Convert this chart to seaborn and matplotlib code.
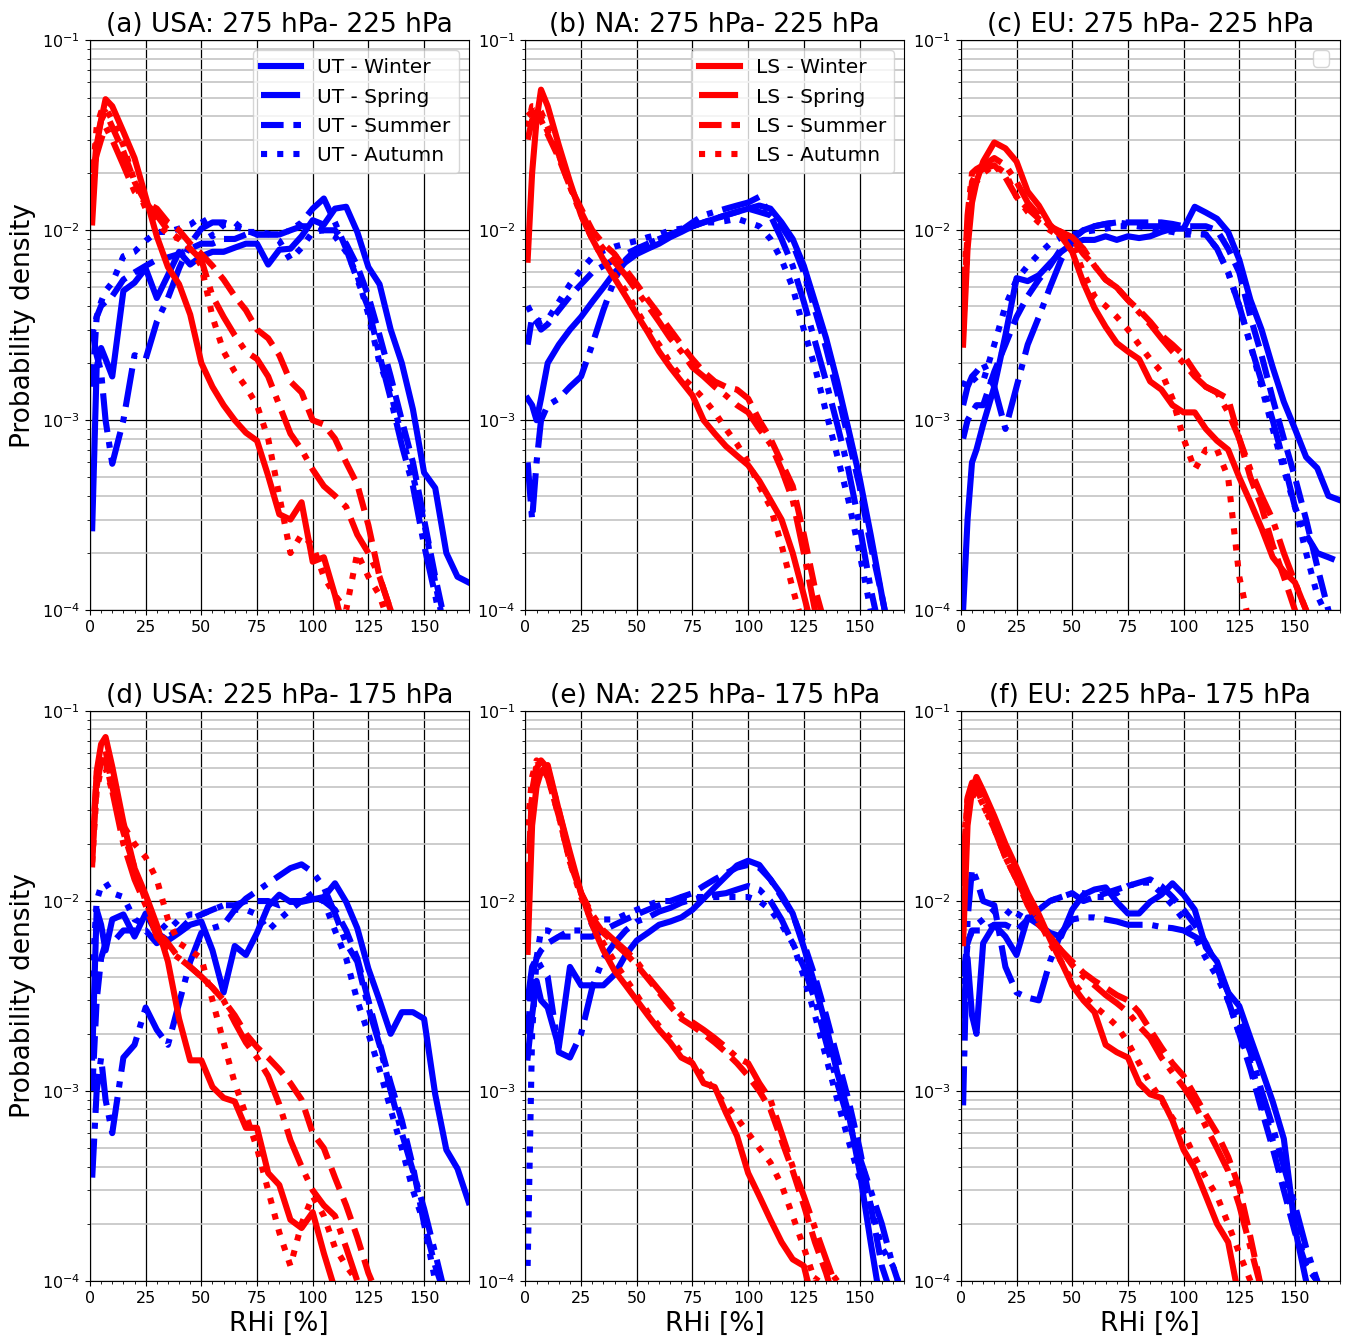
import numpy as np
import matplotlib
matplotlib.use("Agg")
import matplotlib.pyplot as plt
import seaborn as sns
from matplotlib.legend import Legend
from matplotlib.ticker import MultipleLocator, LogLocator, NullFormatter

nan = np.nan

# RHi [%] sampling points shared by all curves
rhi = [1, 3, 5, 7, 10,
       15, 20, 25, 30, 35, 40, 45, 50,
       55, 60, 65, 70, 75, 80, 85, 90, 95, 100,
       105, 110, 115, 120, 125, 130, 135, 140, 145, 150,
       155, 160, 165, 170]

seasons = ["Winter", "Spring", "Summer", "Autumn"]

# probability density, in units of 1e-3
# (a) USA 275-225 hPa
a_ut_winter = [0.27, 1.9, 2.4, 2.1, 1.7,
               4.8, 5.3, 6.3, 4.4, 5.8, 7.7, 6.6, 7.3,
               7.7, 7.7, 8.1, 8.5, 8.5, 6.6, 7.9, 8.0, 9.3, 11.3,
               10.7, 13.0, 13.3, 9.8, 6.4, 5.2, 3.0, 2.0, 1.14, 0.53,
               0.44, 0.2, 0.15, 0.14]
a_ut_spring = [3.0, 2.2, 1.8, 1.0, 0.59,
               1.0, 2.2, 2.1, 3.3, 4.4, 6.3, 8.5, 10.2,
               11.0, 11.0, 10.5, 10.0, 9.5, 9.5, 9.5, 10.0, 11.0, 13.0,
               14.7, 11.0, 8.0, 5.5, 3.9, 2.2, 1.3, 0.74, 0.45, 0.22,
               0.12, 0.06, nan, nan]
a_ut_summer = [1.5, 3.5, 4.0, 4.2, 4.5,
               5.5, 6.0, 6.5, 7.0, 7.2, 7.5, 8.0, 8.5,
               8.5, 9.0, 9.0, 9.5, 9.5, 9.5, 9.5, 10.0, 10.5, 10.5,
               10.0, 10.0, 8.5, 6.5, 4.5, 2.8, 1.7, 1.0, 0.6, 0.3,
               0.15, 0.08, nan, nan]
a_ut_autumn = [2.8, 3.5, 4.2, 4.8, 5.3,
               7.3, 7.7, 8.8, 9.8, 9.8, 10.2, 10.7, 11.8,
               9.3, 10.7, 11.0, 9.8, 9.8, 9.6, 8.8, 7.0, 8.1, 9.8,
               10.0, 9.3, 7.7, 5.8, 3.6, 2.0, 1.4, 0.82, 0.51, 0.29,
               0.14, 0.07, nan, nan]
a_ls_winter = [11, 28, 38, 49, 45,
               33, 24, 15, 9.3, 6.4, 5.2, 3.6, 2.0,
               1.5, 1.2, 1.0, 0.86, 0.78, 0.51, 0.32, 0.3, 0.37, 0.18,
               0.19, 0.12, 0.07, nan, nan, nan, nan, nan, nan, nan,
               nan, nan, nan, nan]
a_ls_spring = [20, 25, 30, 35, 30,
               22, 16, 14, 12, 10, 9, 8, 7,
               4.5, 3.5, 2.8, 2.3, 2.1, 1.7, 1.2, 0.85, 0.7, 0.55,
               0.45, 0.4, 0.35, 0.25, 0.2, 0.15, 0.1, 0.07, nan, nan,
               nan, nan, nan, nan]
a_ls_summer = [15, 30, 38, 42, 35,
               26, 18, 14, 13, 11, 10, 8.5, 7.5,
               6.5, 5.5, 4.5, 3.8, 3.0, 2.7, 2.2, 1.6, 1.4, 1.0,
               0.95, 0.8, 0.6, 0.46, 0.28, 0.15, 0.1, 0.07, nan, nan,
               nan, nan, nan, nan]
a_ls_autumn = [18, 35, 42, 44, 38,
               28, 18, 13, 11, 9.5, 9.0, 8.0, 6.5,
               3.5, 2.3, 1.8, 1.5, 1.2, 0.8, 0.4, 0.2, 0.25, 0.22,
               0.15, 0.12, 0.1, 0.2, 0.15, 0.12, 0.08, nan, nan, nan,
               nan, nan, nan, nan]

# (b) NA 275-225 hPa
b_ut_winter = [1.3, 1.2, 1.0, 1.3, 2.0,
               2.5, 3.0, 3.5, 4.2, 5.0, 6.0, 6.8, 7.5,
               8.0, 8.5, 9.2, 9.8, 10.5, 11.0, 11.5, 12.0, 12.5, 13.0,
               13.5, 13.0, 11.0, 9.0, 6.5, 4.2, 2.7, 1.6, 0.9, 0.5,
               0.25, 0.12, 0.06, nan]
b_ut_spring = [0.6, 0.3, 0.6, 1.0, 1.2,
               1.3, 1.5, 1.7, 2.5, 3.8, 5.5, 7.0, 8.0,
               8.5, 9.0, 9.5, 10.0, 11.0, 12.0, 12.5, 13.0, 13.5, 14.0,
               15.0, 12.0, 9.0, 6.5, 4.2, 2.6, 1.6, 0.95, 0.55, 0.28,
               0.13, 0.07, nan, nan]
b_ut_summer = [2.5, 3.5, 3.3, 3.0, 3.2,
               3.8, 4.5, 5.2, 6.0, 6.5, 7.0, 7.5, 8.0,
               8.5, 9.0, 9.5, 10.0, 10.5, 11.0, 11.5, 12.0, 12.5, 13.0,
               12.5, 12.0, 10.5, 8.5, 6.0, 3.8, 2.4, 1.4, 0.8, 0.45,
               0.22, 0.12, 0.06, nan]
b_ut_autumn = [4.0, 3.6, 3.4, 3.3, 3.4,
               4.2, 5.2, 6.2, 7.2, 7.8, 8.2, 8.5, 8.8,
               9.2, 9.5, 10.0, 10.2, 10.5, 11.0, 11.0, 11.2, 11.5, 11.0,
               10.5, 9.0, 7.0, 5.0, 3.0, 1.9, 1.1, 0.65, 0.38, 0.2,
               0.1, 0.06, nan, nan]
b_ls_winter = [7, 20, 38, 55, 45,
               28, 18, 12, 9, 7, 5.6, 4.5, 3.6,
               2.9, 2.3, 1.9, 1.6, 1.35, 1.0, 0.85, 0.73, 0.65, 0.58,
               0.48, 0.38, 0.3, 0.2, 0.12, 0.07, nan, nan, nan, nan,
               nan, nan, nan, nan]
b_ls_spring = [30, 38, 42, 40, 33,
               25, 17, 12.5, 9.5, 8.0, 6.8, 5.8, 4.8,
               4.0, 3.3, 2.7, 2.3, 1.9, 1.7, 1.5, 1.35, 1.2, 1.1,
               0.9, 0.75, 0.55, 0.38, 0.2, 0.1, 0.06, nan, nan, nan,
               nan, nan, nan, nan]
b_ls_summer = [40, 42, 40, 38, 32,
               24, 17, 13, 10, 8.5, 7.5, 6.2, 5.2,
               4.3, 3.6, 3.0, 2.5, 2.1, 1.8, 1.6, 1.5, 1.45, 1.3,
               1.0, 0.8, 0.6, 0.45, 0.25, 0.13, 0.08, nan, nan, nan,
               nan, nan, nan, nan]
b_ls_autumn = [35, 45, 45, 42, 35,
               25, 17, 12, 9, 7, 5.8, 4.8, 3.8,
               3.0, 2.5, 2.0, 1.7, 1.5, 1.3, 1.1, 0.9, 0.75, 0.6,
               0.45, 0.35, 0.22, 0.13, 0.08, nan, nan, nan, nan, nan,
               nan, nan, nan, nan]

# (c) EU 275-225 hPa
c_ut_winter = [0.1, 0.3, 0.6, 0.7, 0.95,
               1.5, 2.8, 5.6, 5.4, 5.8, 6.7, 7.7, 8.5,
               8.9, 8.9, 9.3, 8.9, 9.3, 9.1, 9.3, 9.8, 10.2, 10.2,
               13.3, 12.4, 11.5, 9.8, 7.0, 4.3, 3.0, 1.9, 1.25, 0.9,
               0.64, 0.56, 0.4, 0.38]
c_ut_spring = [1.2, 1.5, 1.7, 1.8, 2.0,
               1.5, 0.9, 1.5, 2.5, 3.5, 5.0, 7.0, 9.0,
               10.0, 10.5, 10.8, 11.0, 10.8, 10.5, 10.5, 10.5, 10.2, 10.0,
               9.8, 9.5, 8.0, 6.0, 4.0, 2.5, 1.6, 1.0, 0.6, 0.35,
               0.25, 0.2, 0.19, 0.18]
c_ut_summer = [0.8, 1.0, 1.1, 1.2, 1.2,
               1.8, 2.5, 3.5, 4.5, 5.5, 6.5, 8.0, 9.0,
               10.0, 10.5, 10.8, 11.0, 11.0, 11.0, 11.0, 11.0, 10.8, 10.5,
               10.5, 10.5, 10.0, 8.0, 6.0, 3.5, 2.2, 1.3, 0.8, 0.5,
               0.3, 0.17, 0.1, 0.07]
c_ut_autumn = [1.5, 1.7, 1.7, 1.6, 1.6,
               2.5, 4.0, 5.5, 6.5, 7.5, 8.5, 9.2, 9.5,
               9.8, 10.0, 10.2, 10.5, 10.5, 10.5, 10.2, 10.0, 9.8, 9.5,
               9.5, 9.5, 8.0, 6.0, 4.0, 2.5, 1.5, 0.9, 0.55, 0.35,
               0.2, 0.12, 0.09, nan]
c_ls_winter = [2.5, 8, 14, 18, 23,
               29, 27, 23, 16, 13.5, 10.7, 9.3, 7.7,
               5.3, 3.9, 3.1, 2.55, 2.3, 2.1, 1.6, 1.45, 1.2, 1.1,
               1.1, 0.9, 0.78, 0.7, 0.5, 0.37, 0.27, 0.19, 0.16, 0.14,
               0.1, 0.07, nan, nan]
c_ls_spring = [4, 12, 20, 21, 22,
               24, 22, 18, 14, 12, 10.5, 9.8, 9.2,
               8.0, 6.5, 5.5, 5.0, 4.3, 3.7, 3.2, 2.7, 2.3, 2.0,
               1.7, 1.5, 1.4, 1.1, 0.8, 0.55, 0.4, 0.3, 0.2, 0.14,
               0.1, 0.07, nan, nan]
c_ls_summer = [3, 10, 18, 20, 21,
               22, 19, 15, 13, 11.5, 10.5, 9.8, 9.0,
               7.5, 6.5, 5.5, 5.0, 4.3, 3.8, 3.3, 2.8, 2.5, 2.2,
               1.8, 1.5, 1.4, 1.3, 0.8, 0.5, 0.35, 0.22, 0.15, 0.1,
               0.07, nan, nan, nan]
c_ls_autumn = [3, 9, 16, 18, 20,
               22, 20, 15, 12.5, 11, 10, 9.2, 8.5,
               6.0, 4.5, 4.0, 3.5, 3.0, 2.5, 2.1, 1.8, 1.3, 0.8,
               0.55, 0.7, 0.7, 0.5, 0.15, 0.08, nan, nan, nan, nan,
               nan, nan, nan, nan]

# (d) USA 225-175 hPa
d_ut_winter = [1.5, 9.0, 7.5, 5.5, 8.0,
               8.5, 6.5, 8.6, 6.8, 6.2, 6.8, 7.5, 7.8,
               5.5, 3.3, 5.8, 5.2, 6.8, 9.4, 10.8, 9.9, 9.9, 10.2,
               10.5, 12.4, 9.9, 7.2, 4.4, 3.0, 2.0, 2.6, 2.6, 2.4,
               0.96, 0.49, 0.39, 0.26]
d_ut_spring = [0.35, 1.0, 1.5, 0.9, 0.6,
               1.5, 1.75, 2.75, 2.1, 1.75, 2.9, 4.8, 6.8,
               7.2, 7.5, 9.0, 10.3, 11.3, 12.4, 13.6, 14.9, 15.6, 14.2,
               11.8, 8.6, 6.0, 4.8, 2.75, 1.75, 1.0, 0.6, 0.38, 0.24,
               0.14, 0.08, nan, nan]
d_ut_summer = [1.0, 3.0, 5.0, 6.0, 6.0,
               7.0, 7.0, 7.0, 6.0, 6.5, 7.0, 8.0, 8.5,
               9.0, 9.5, 9.5, 10.0, 10.0, 10.0, 9.5, 10.0, 10.0, 10.5,
               10.0, 9.0, 7.0, 5.0, 3.0, 1.8, 1.1, 0.7, 0.4, 0.2,
               0.12, 0.08, nan, nan]
d_ut_autumn = [4.0, 10.0, 12.0, 12.5, 11.0,
               10.5, 8.0, 7.5, 8.0, 7.0, 8.0, 8.5, 8.5,
               9.0, 9.5, 9.0, 9.0, 8.5, 7.0, 8.0, 9.0, 10.0, 11.0,
               10.0, 7.0, 5.0, 3.0, 2.0, 1.3, 0.8, 0.5, 0.3, 0.2,
               0.1, 0.06, nan, nan]
d_ls_winter = [15.6, 48, 67, 73, 51,
               26, 14.9, 10.8, 7.5, 4.8, 2.4, 1.45, 1.45,
               1.05, 0.92, 0.88, 0.64, 0.64, 0.37, 0.32, 0.21, 0.19, 0.23,
               0.14, 0.09, nan, nan, nan, nan, nan, nan, nan, nan,
               nan, nan, nan, nan]
d_ls_spring = [18, 40, 55, 55, 38,
               20, 13, 9.5, 6.5, 5.5, 5.0, 4.5, 4.0,
               3.5, 3.0, 2.3, 1.8, 1.5, 1.2, 0.85, 0.55, 0.4, 0.3,
               0.25, 0.22, 0.15, 0.1, 0.07, nan, nan, nan, nan, nan,
               nan, nan, nan, nan]
d_ls_summer = [20, 45, 60, 62, 40,
               23, 15, 10, 7, 6, 5, 4.5, 4,
               3.5, 3.0, 2.5, 2.0, 1.7, 1.5, 1.3, 1.1, 0.9, 0.6,
               0.5, 0.35, 0.25, 0.17, 0.11, 0.08, nan, nan, nan, nan,
               nan, nan, nan, nan]
d_ls_autumn = [16, 38, 50, 50, 38,
               25, 20, 17, 13, 8, 6, 5.5, 5,
               3.0, 1.8, 1.1, 0.75, 0.5, 0.3, 0.18, 0.12, 0.2, 0.28,
               0.22, 0.15, 0.12, 0.1, 0.07, nan, nan, nan, nan, nan,
               nan, nan, nan, nan]

# (e) NA 225-175 hPa
e_ut_winter = [1.5, 2.5, 3.8, 3.0, 2.75,
               1.7, 4.5, 3.6, 3.6, 3.6, 4.1, 5.2, 6.2,
               6.8, 7.5, 7.8, 8.2, 9.0, 10.3, 11.8, 13.5, 15.4, 16.3,
               15.5, 13.0, 10.8, 8.6, 5.7, 3.6, 2.2, 1.25, 0.77, 0.38,
               0.16, 0.07, nan, nan]
e_ut_spring = [3.0, 4.5, 5.0, 4.5, 4.0,
               1.6, 1.5, 2.0, 3.5, 5.0, 6.0, 7.0, 7.8,
               8.2, 8.8, 9.2, 9.8, 10.2, 10.5, 10.8, 11.0, 11.5, 12.0,
               11.5, 10.0, 8.0, 6.0, 4.5, 3.0, 1.8, 1.1, 0.7, 0.45,
               0.3, 0.2, 0.12, 0.08]
e_ut_summer = [2.0, 4.0, 5.0, 5.5, 6.0,
               6.5, 6.5, 6.5, 6.5, 7.0, 7.5, 8.0, 8.5,
               9.0, 9.5, 10.0, 10.5, 11.0, 12.0, 13.0, 14.0, 15.0, 15.5,
               15.0, 13.0, 10.5, 8.5, 6.0, 4.0, 2.5, 1.5, 0.9, 0.5,
               0.25, 0.12, 0.08, nan]
e_ut_autumn = [0.12, 2.0, 5.0, 7.0, 7.0,
               6.5, 7.0, 7.0, 7.5, 8.0, 8.0, 8.5, 9.0,
               9.5, 10.0, 10.0, 10.5, 10.5, 10.5, 10.5, 10.5, 10.5, 10.5,
               10.0, 9.0, 7.5, 6.0, 4.0, 2.5, 1.5, 0.9, 0.55, 0.35,
               0.25, 0.15, 0.12, 0.08]
e_ls_winter = [5.4, 25, 40, 48, 52,
               30, 18, 11, 7.5, 5.5, 4.3, 3.6, 3.0,
               2.5, 2.1, 1.8, 1.5, 1.4, 1.1, 1.05, 0.77, 0.58, 0.37,
               0.28, 0.21, 0.16, 0.13, 0.12, 0.07, nan, nan, nan, nan,
               nan, nan, nan, nan]
e_ls_spring = [10, 35, 50, 55, 50,
               30, 17, 11, 8.5, 7.0, 6.2, 5.5, 4.8,
               4.0, 3.4, 2.9, 2.5, 2.3, 2.1, 1.9, 1.7, 1.5, 1.4,
               1.1, 0.9, 0.6, 0.4, 0.28, 0.19, 0.13, 0.09, nan, nan,
               nan, nan, nan, nan]
e_ls_summer = [12, 38, 52, 52, 45,
               28, 16, 11, 8.2, 6.8, 6.0, 5.3, 4.6,
               3.9, 3.3, 2.8, 2.4, 2.2, 2.0, 1.8, 1.6, 1.4, 1.2,
               1.0, 0.8, 0.55, 0.38, 0.25, 0.16, 0.11, 0.07, nan, nan,
               nan, nan, nan, nan]
e_ls_autumn = [25, 45, 55, 52, 45,
               28, 16, 10.5, 7.8, 6.0, 4.8, 3.9, 3.2,
               2.6, 2.2, 1.9, 1.6, 1.4, 1.2, 1.0, 0.85, 0.72, 0.6,
               0.5, 0.42, 0.32, 0.22, 0.15, 0.1, 0.12, 0.1, nan, nan,
               nan, nan, nan, nan]

# (f) EU 225-175 hPa
f_ut_winter = [2.5, 5.0, 2.5, 2.0, 6.0,
               7.5, 6.5, 5.2, 8.2, 7.5, 6.8, 6.5, 9.0,
               10.8, 11.5, 11.8, 9.9, 8.6, 8.6, 9.9, 10.8, 12.4, 10.8,
               9.0, 5.7, 4.8, 3.3, 2.8, 1.9, 1.3, 0.88, 0.56, 0.19,
               0.1, 0.06, nan, nan]
f_ut_spring = [0.84, 8.0, 14.8, 13.0, 10.0,
               9.5, 4.5, 3.3, 3.1, 3.0, 4.8, 6.8, 8.0,
               8.2, 8.2, 8.0, 7.8, 7.5, 7.5, 7.5, 7.3, 7.2, 7.0,
               6.5, 6.0, 4.5, 3.3, 2.3, 1.6, 1.0, 0.65, 0.4, 0.25,
               0.15, 0.1, 0.07, nan]
f_ut_summer = [4.0, 6.0, 7.0, 7.0, 7.0,
               7.5, 7.5, 7.0, 8.0, 9.0, 10.0, 10.5, 11.0,
               10.0, 10.5, 11.0, 11.5, 12.0, 12.5, 13.0, 12.0, 10.5, 9.0,
               7.5, 6.0, 4.5, 3.0, 2.0, 1.3, 0.8, 0.5, 0.3, 0.18,
               0.12, 0.1, nan, nan]
f_ut_autumn = [3.0, 6.0, 7.0, 7.5, 8.0,
               9.0, 9.0, 8.0, 10.0, 9.0, 10.0, 10.5, 11.0,
               11.0, 10.5, 10.5, 11.0, 12.0, 12.5, 12.5, 11.0, 9.5, 8.0,
               6.5, 5.0, 4.0, 3.0, 2.0, 1.4, 0.9, 0.55, 0.35, 0.2,
               0.12, 0.1, nan, nan]
f_ls_winter = [6, 25, 38, 45, 38,
               28, 20, 15, 11, 8.5, 6.3, 4.8, 3.6,
               3.0, 2.6, 1.75, 1.6, 1.5, 1.1, 0.96, 0.92, 0.7, 0.49,
               0.39, 0.28, 0.2, 0.16, 0.08, nan, nan, nan, nan, nan,
               nan, nan, nan, nan]
f_ls_spring = [15, 35, 42, 40, 32,
               24, 17, 13, 10, 8, 6.5, 5.5, 4.6,
               4.0, 3.6, 3.2, 2.9, 2.6, 2.2, 1.9, 1.5, 1.25, 1.05,
               0.85, 0.65, 0.5, 0.38, 0.25, 0.15, 0.09, nan, nan, nan,
               nan, nan, nan, nan]
f_ls_summer = [12, 35, 40, 42, 35,
               25, 17, 13, 9.5, 7.5, 6.5, 5.5, 4.8,
               4.2, 3.8, 3.5, 3.2, 3.0, 2.6, 2.1, 1.7, 1.4, 1.2,
               0.95, 0.75, 0.6, 0.45, 0.31, 0.17, 0.09, nan, nan, nan,
               nan, nan, nan, nan]
f_ls_autumn = [20, 32, 35, 38, 32,
               24, 17, 13, 10, 8, 6, 4.8, 3.8,
               3.2, 2.8, 2.5, 2.2, 1.8, 1.4, 1.1, 0.9, 0.72, 0.6,
               0.45, 0.35, 0.28, 0.2, 0.14, 0.1, 0.07, nan, nan, nan,
               nan, nan, nan, nan]

panels = [
    ("(a) USA: 275 hPa- 225 hPa",
     [a_ut_winter, a_ut_spring, a_ut_summer, a_ut_autumn],
     [a_ls_winter, a_ls_spring, a_ls_summer, a_ls_autumn]),
    ("(b) NA: 275 hPa- 225 hPa",
     [b_ut_winter, b_ut_spring, b_ut_summer, b_ut_autumn],
     [b_ls_winter, b_ls_spring, b_ls_summer, b_ls_autumn]),
    ("(c) EU: 275 hPa- 225 hPa",
     [c_ut_winter, c_ut_spring, c_ut_summer, c_ut_autumn],
     [c_ls_winter, c_ls_spring, c_ls_summer, c_ls_autumn]),
    ("(d) USA: 225 hPa- 175 hPa",
     [d_ut_winter, d_ut_spring, d_ut_summer, d_ut_autumn],
     [d_ls_winter, d_ls_spring, d_ls_summer, d_ls_autumn]),
    ("(e) NA: 225 hPa- 175 hPa",
     [e_ut_winter, e_ut_spring, e_ut_summer, e_ut_autumn],
     [e_ls_winter, e_ls_spring, e_ls_summer, e_ls_autumn]),
    ("(f) EU: 225 hPa- 175 hPa",
     [f_ut_winter, f_ut_spring, f_ut_summer, f_ut_autumn],
     [f_ls_winter, f_ls_spring, f_ls_summer, f_ls_autumn]),
]

linestyles = ["-", "-.", "--", ":"]
lw = 4.4


def draw_panel(ax, title, ut, ls):
    for layer, color, curves in (("UT", "blue", ut), ("LS", "red", ls)):
        for season, style, vals in zip(seasons, linestyles, curves):
            y = np.array(vals, dtype=float) * 1e-3
            sns.lineplot(x=rhi, y=y, ax=ax, color=color, linestyle=style,
                         lw=lw, label=f"{layer} - {season}", legend=False)
    ax.set_yscale("log")
    ax.set_ylim(1e-4, 1e-1)
    ax.set_xlim(0, 170)
    ax.set_xticks([0, 25, 50, 75, 100, 125, 150])
    ax.xaxis.set_minor_locator(MultipleLocator(5))
    ax.yaxis.set_major_locator(LogLocator(base=10, numticks=10))
    ax.yaxis.set_minor_locator(LogLocator(base=10, subs=np.arange(2, 10), numticks=20))
    ax.yaxis.set_minor_formatter(NullFormatter())
    ax.grid(True, which="major", color="black", lw=0.9)
    ax.grid(True, which="minor", axis="y", color="#c4c4c4", lw=1.2)
    ax.set_axisbelow(True)
    ax.tick_params(labelsize=11.5)
    ax.set_title(title, fontsize=19)
    ax.set_xlabel("")
    ax.set_ylabel("")


fig, axes = plt.subplots(2, 3, figsize=(13.51, 13.44), dpi=100)
fig.subplots_adjust(left=0.0666, right=0.9915, top=0.970, bottom=0.0469,
                    wspace=0.15, hspace=0.177)

for ax, (title, ut, ls) in zip(axes.flat, panels):
    draw_panel(ax, title, ut, ls)

for ax in axes[:, 0]:
    ax.set_ylabel("Probability density", fontsize=19)
for ax in axes[1, :]:
    ax.set_xlabel("RHi [%]", fontsize=19)

# legends: UT in (a), LS in (b), an empty box in (c)
h, l = axes[0, 0].get_legend_handles_labels()
axes[0, 0].legend([hh for hh, ll in zip(h, l) if ll.startswith("UT")],
                  [ll for ll in l if ll.startswith("UT")],
                  loc="upper right", fontsize=14.5)
h, l = axes[0, 1].get_legend_handles_labels()
axes[0, 1].legend([hh for hh, ll in zip(h, l) if ll.startswith("LS")],
                  [ll for ll in l if ll.startswith("LS")],
                  loc="upper right", fontsize=14.5)
axes[0, 2].add_artist(Legend(axes[0, 2], [], [], loc="upper right", fontsize=14.5))

fig.savefig("out.png", dpi=100)
